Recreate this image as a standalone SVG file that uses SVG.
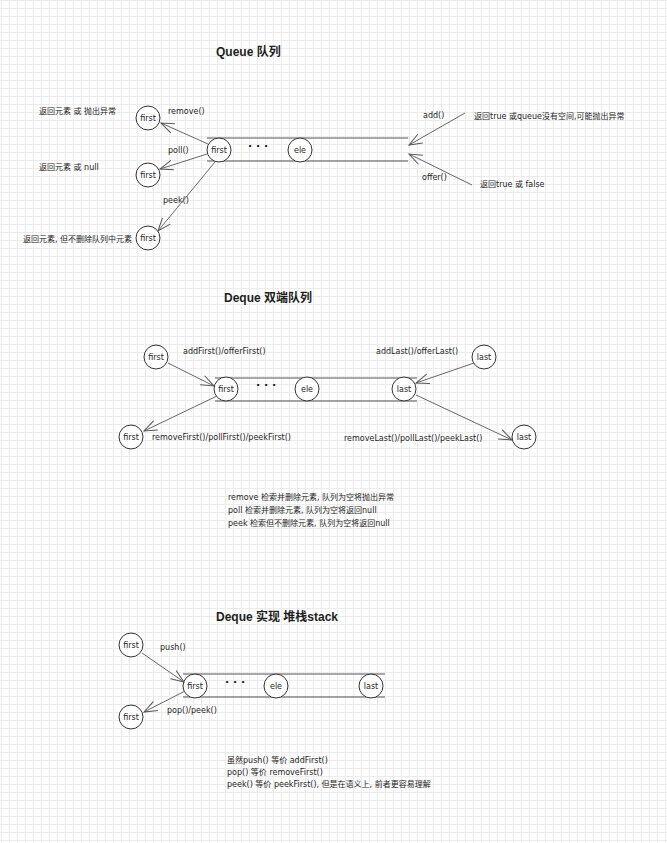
<svg xmlns="http://www.w3.org/2000/svg" width="667" height="843" viewBox="0 0 667 843">
<defs>
  <pattern id="grid" x="1" y="0" width="8" height="8" patternUnits="userSpaceOnUse">
    <path d="M0.5 0 V8 M0 0.5 H8" fill="none" stroke="#ececec" stroke-width="1"/>
  </pattern>
  <marker id="arr" markerUnits="userSpaceOnUse" markerWidth="16" markerHeight="14" viewBox="-14 -7 16 14" refX="0" refY="0" orient="auto">
    <path d="M-13 -5 L0 0 L-13 5" fill="none" stroke="#555" stroke-width="1"/>
  </marker>
  <style>
    text { font-family: "DejaVu Sans", "Noto Sans CJK SC", sans-serif; fill: #1e1e1e; }
    .t { font-size: 8px; }
    .l { font-size: 8px; }
    .title { font-family: "Liberation Sans", "Noto Sans CJK SC", sans-serif; font-size: 12px; font-weight: bold; }
    .c { fill: #fff; stroke: #333; stroke-width: 1; }
    .ct { font-size: 8px; text-anchor: middle; }
    .dots { font-size: 11px; font-weight: bold; }
    .tube { stroke: #555; stroke-width: 1.2; fill: none; }
    .conn { stroke: #666; stroke-width: 1; fill: none; marker-end: url(#arr); }
  </style>
</defs>
<rect width="667" height="843" fill="#fff"/>
<rect width="667" height="843" fill="url(#grid)"/>

<!-- Queue section -->
<text class="title" x="216" y="56">Queue 队列</text>
<g id="queue-tube"><path class="tube" d="M207 138 H408 M207 161 H408"/></g>
<g id="q-first"><circle class="c" cx="219" cy="150" r="12"/><text class="ct" x="219" y="153">first</text></g>
<g id="q-dots"><text class="dots" x="248" y="150">·  ·  ·</text></g>
<g id="q-ele"><circle class="c" cx="300" cy="150" r="12"/><text class="ct" x="300" y="153">ele</text></g>
<g id="q-out1"><circle class="c" cx="148" cy="118" r="12"/><text class="ct" x="148" y="121">first</text></g>
<g id="q-out2"><circle class="c" cx="148" cy="175" r="12"/><text class="ct" x="148" y="178">first</text></g>
<g id="q-out3"><circle class="c" cx="148" cy="238" r="12"/><text class="ct" x="148" y="241">first</text></g>

<text class="t" x="39" y="114">返回元素 或 抛出异常</text>
<text class="l" x="168" y="114">remove()</text>
<text class="l" x="168" y="153">poll()</text>
<text class="t" x="39" y="170">返回元素 或 null</text>
<text class="l" x="163" y="203">peek()</text>
<text class="t" x="23" y="242">返回元素, 但不删除队列中元素</text>
<text class="l" x="423" y="118">add()</text>
<text class="t" x="474" y="119">返回true 或queue没有空间,可能抛出异常</text>
<text class="l" x="422" y="180">offer()</text>
<text class="t" x="480" y="187">返回true 或 false</text>

<!-- Deque section -->
<text class="title" x="224" y="302">Deque 双端队列</text>
<g id="d-tube"><path class="tube" d="M215 378 H417 M215 401 H417"/></g>
<g id="d-in-first"><circle class="c" cx="156" cy="357" r="12"/><text class="ct" x="156" y="360">first</text></g>
<g id="d-first"><circle class="c" cx="226" cy="389" r="12"/><text class="ct" x="226" y="392">first</text></g>
<g id="d-dots"><text class="dots" x="256" y="389">·  ·  ·</text></g>
<g id="d-ele"><circle class="c" cx="307" cy="389" r="12"/><text class="ct" x="307" y="392">ele</text></g>
<g id="d-last"><circle class="c" cx="404" cy="389" r="12"/><text class="ct" x="404" y="392">last</text></g>
<g id="d-in-last"><circle class="c" cx="484" cy="357" r="12"/><text class="ct" x="484" y="360">last</text></g>
<g id="d-out-first"><circle class="c" cx="131" cy="437" r="12"/><text class="ct" x="131" y="440">first</text></g>
<g id="d-out-last"><circle class="c" cx="524" cy="437" r="12"/><text class="ct" x="524" y="440">last</text></g>

<text class="l" x="183" y="354">addFirst()/offerFirst()</text>
<text class="l" x="376" y="354">addLast()/offerLast()</text>
<text class="l" x="152" y="440">removeFirst()/pollFirst()/peekFirst()</text>
<text class="l" x="344" y="441">removeLast()/pollLast()/peekLast()</text>

<g id="d-notes">
<text class="t" x="228" y="500">remove 检索并删除元素, 队列为空将抛出异常</text>
<text class="t" x="228" y="513">poll 检索并删除元素, 队列为空将返回null</text>
<text class="t" x="228" y="526">peek 检索但不删除元素, 队列为空将返回null</text>
</g>

<!-- Stack section -->
<text class="title" x="216" y="621">Deque 实现 堆栈stack</text>
<g id="s-tube"><path class="tube" d="M183 674 H385 M183 697 H385"/></g>
<g id="s-in-first"><circle class="c" cx="131" cy="645" r="12"/><text class="ct" x="131" y="648">first</text></g>
<g id="s-first"><circle class="c" cx="195" cy="686" r="12"/><text class="ct" x="195" y="689">first</text></g>
<g id="s-dots"><text class="dots" x="225" y="686">·  ·  ·</text></g>
<g id="s-ele"><circle class="c" cx="276" cy="686" r="12"/><text class="ct" x="276" y="689">ele</text></g>
<g id="s-last"><circle class="c" cx="371" cy="686" r="12"/><text class="ct" x="371" y="689">last</text></g>
<g id="s-out-first"><circle class="c" cx="131" cy="717" r="12"/><text class="ct" x="131" y="720">first</text></g>

<text class="l" x="160" y="650">push()</text>
<text class="l" x="167" y="713">pop()/peek()</text>

<g id="s-notes">
<text class="t" x="227" y="763">虽然push() 等价 addFirst()</text>
<text class="t" x="227" y="775">pop() 等价 removeFirst()</text>
<text class="t" x="227" y="787">peek() 等价 peekFirst(), 但是在语义上, 前者更容易理解</text>
</g>

<g id="connectors">
  <path class="conn" d="M208 144 L161 123"/>
  <path class="conn" d="M207 154 L160 169"/>
  <path class="conn" d="M215 162 L158 231"/>
  <path class="conn" d="M465 113 L409 145"/>
  <path class="conn" d="M472 185 L409 154"/>
  <path class="conn" d="M168 363 L214 386"/>
  <path class="conn" d="M217 396 L144 431"/>
  <path class="conn" d="M474 363 L416 383"/>
  <path class="conn" d="M416 395 L512 440"/>
  <path class="conn" d="M142 653 L184 682"/>
  <path class="conn" d="M185 691 L144 712"/>
</g>
</svg>
